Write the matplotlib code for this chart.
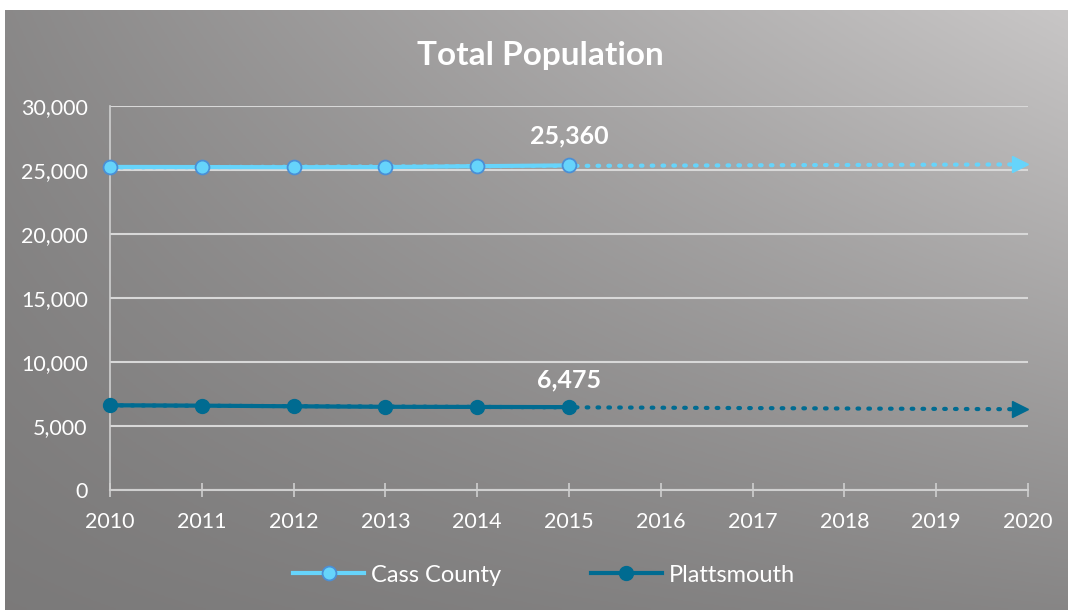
import numpy as np
import matplotlib
matplotlib.use("Agg")
from matplotlib import pyplot as plt
from matplotlib import transforms
from matplotlib.ticker import FuncFormatter

years = [2010, 2011, 2012, 2013, 2014, 2015]
cass_county = [25240, 25230, 25220, 25230, 25300, 25360]
plattsmouth = [6620, 6590, 6540, 6500, 6490, 6475]
trend_years = [2010, 2020]
y_ticks = [0, 5000, 10000, 15000, 20000, 25000, 30000]

cass_color = "#66d4fb"
cass_edge = "#4a8fd6"
platt_color = "#006b91"
grid_color = "#d8d8d8"

plt.rcParams["font.family"] = ["Lato", "DejaVu Sans"]

fig = plt.figure(figsize=(10.71, 6.1), dpi=100)
fig.patch.set_facecolor("white")

# gradient background (lighter toward top right)
bg = fig.add_axes([5 / 1071, 0, 1063 / 1071, 600 / 610])
xx, yy = np.meshgrid(np.linspace(0, 1, 300), np.linspace(1, 0, 200))
val = (123 + 12 * xx + 15 * yy + 50 * xx * yy) / 255.0
img = np.dstack([val, val * 0.99, val * 0.99])
bg.imshow(np.clip(img, 0, 1), aspect="auto", extent=[0, 1, 0, 1])
bg.axis("off")
bg.set_zorder(-10)

ax = fig.add_axes([110 / 1071, 1 - 490 / 610, 918 / 1071, 384 / 610])
ax.patch.set_alpha(0)

def trend(x, y):
    p = np.polyfit(x, y, 1)
    return np.polyval(p, trend_years)

ct = trend(years, cass_county)
pt = trend(years, plattsmouth)

# arrow heads end at the 2020 line
head = transforms.offset_copy(ax.transData, fig=fig, x=-6, y=0, units="points")
for t, c in [(ct, cass_color), (pt, platt_color)]:
    ax.plot(trend_years, t, linestyle=(0, (0.4, 2.2)), dash_capstyle="round",
            color=c, lw=3, zorder=2)
    ax.plot([trend_years[-1]], [t[-1]], marker=">", color=c, ms=11, zorder=2,
            clip_on=False, transform=head)

ax.plot(years, cass_county, color=cass_color, lw=3, marker="o", ms=10,
        markerfacecolor=cass_color, markeredgecolor=cass_edge, markeredgewidth=1.3,
        label="Cass County", zorder=4, clip_on=False)
ax.plot(years, plattsmouth, color=platt_color, lw=3, marker="o", ms=10,
        markerfacecolor=platt_color, markeredgecolor=platt_color,
        label="Plattsmouth", zorder=4, clip_on=False)

ax.annotate(f"{cass_county[-1]:,}", (years[-1], cass_county[-1]), xytext=(0, 13),
            textcoords="offset points", ha="center", va="bottom",
            color="white", fontsize=18, fontweight="bold")
ax.annotate(f"{plattsmouth[-1]:,}", (years[-1], plattsmouth[-1]), xytext=(0, 11),
            textcoords="offset points", ha="center", va="bottom",
            color="white", fontsize=18, fontweight="bold")

ax.set_xlim(2010, 2020)
ax.set_ylim(0, 30000)
ax.set_xticks(range(2010, 2021))
ax.set_yticks(y_ticks)
ax.yaxis.set_major_formatter(FuncFormatter(lambda v, _: f"{int(v):,}"))
ax.grid(axis="y", color=grid_color, lw=1.5)
ax.set_axisbelow(True)
for s in ["top", "right"]:
    ax.spines[s].set_visible(False)
ax.spines["left"].set_color("#cfcfcf")
ax.spines["bottom"].set_color("#cfcfcf")
ax.spines["left"].set_linewidth(1.2)
ax.spines["bottom"].set_linewidth(1.5)
ax.tick_params(axis="x", direction="inout", length=10, width=1.2, color="#cfcfcf",
               labelcolor="white", labelsize=15.5, pad=11)
ax.tick_params(axis="y", length=0, labelcolor="white", labelsize=15.5, pad=16)

fig.text(0.505, 1 - 55 / 610, "Total Population", ha="center", va="center",
         color="white", fontsize=24, fontweight="bold")

leg = fig.legend(loc="center", bbox_to_anchor=(0.508, 1 - 575 / 610), ncol=2,
                 frameon=False, fontsize=17, handlelength=3.0, columnspacing=3.8,
                 handletextpad=0.3, labelcolor="white")

fig.savefig("out.png", dpi=100)
